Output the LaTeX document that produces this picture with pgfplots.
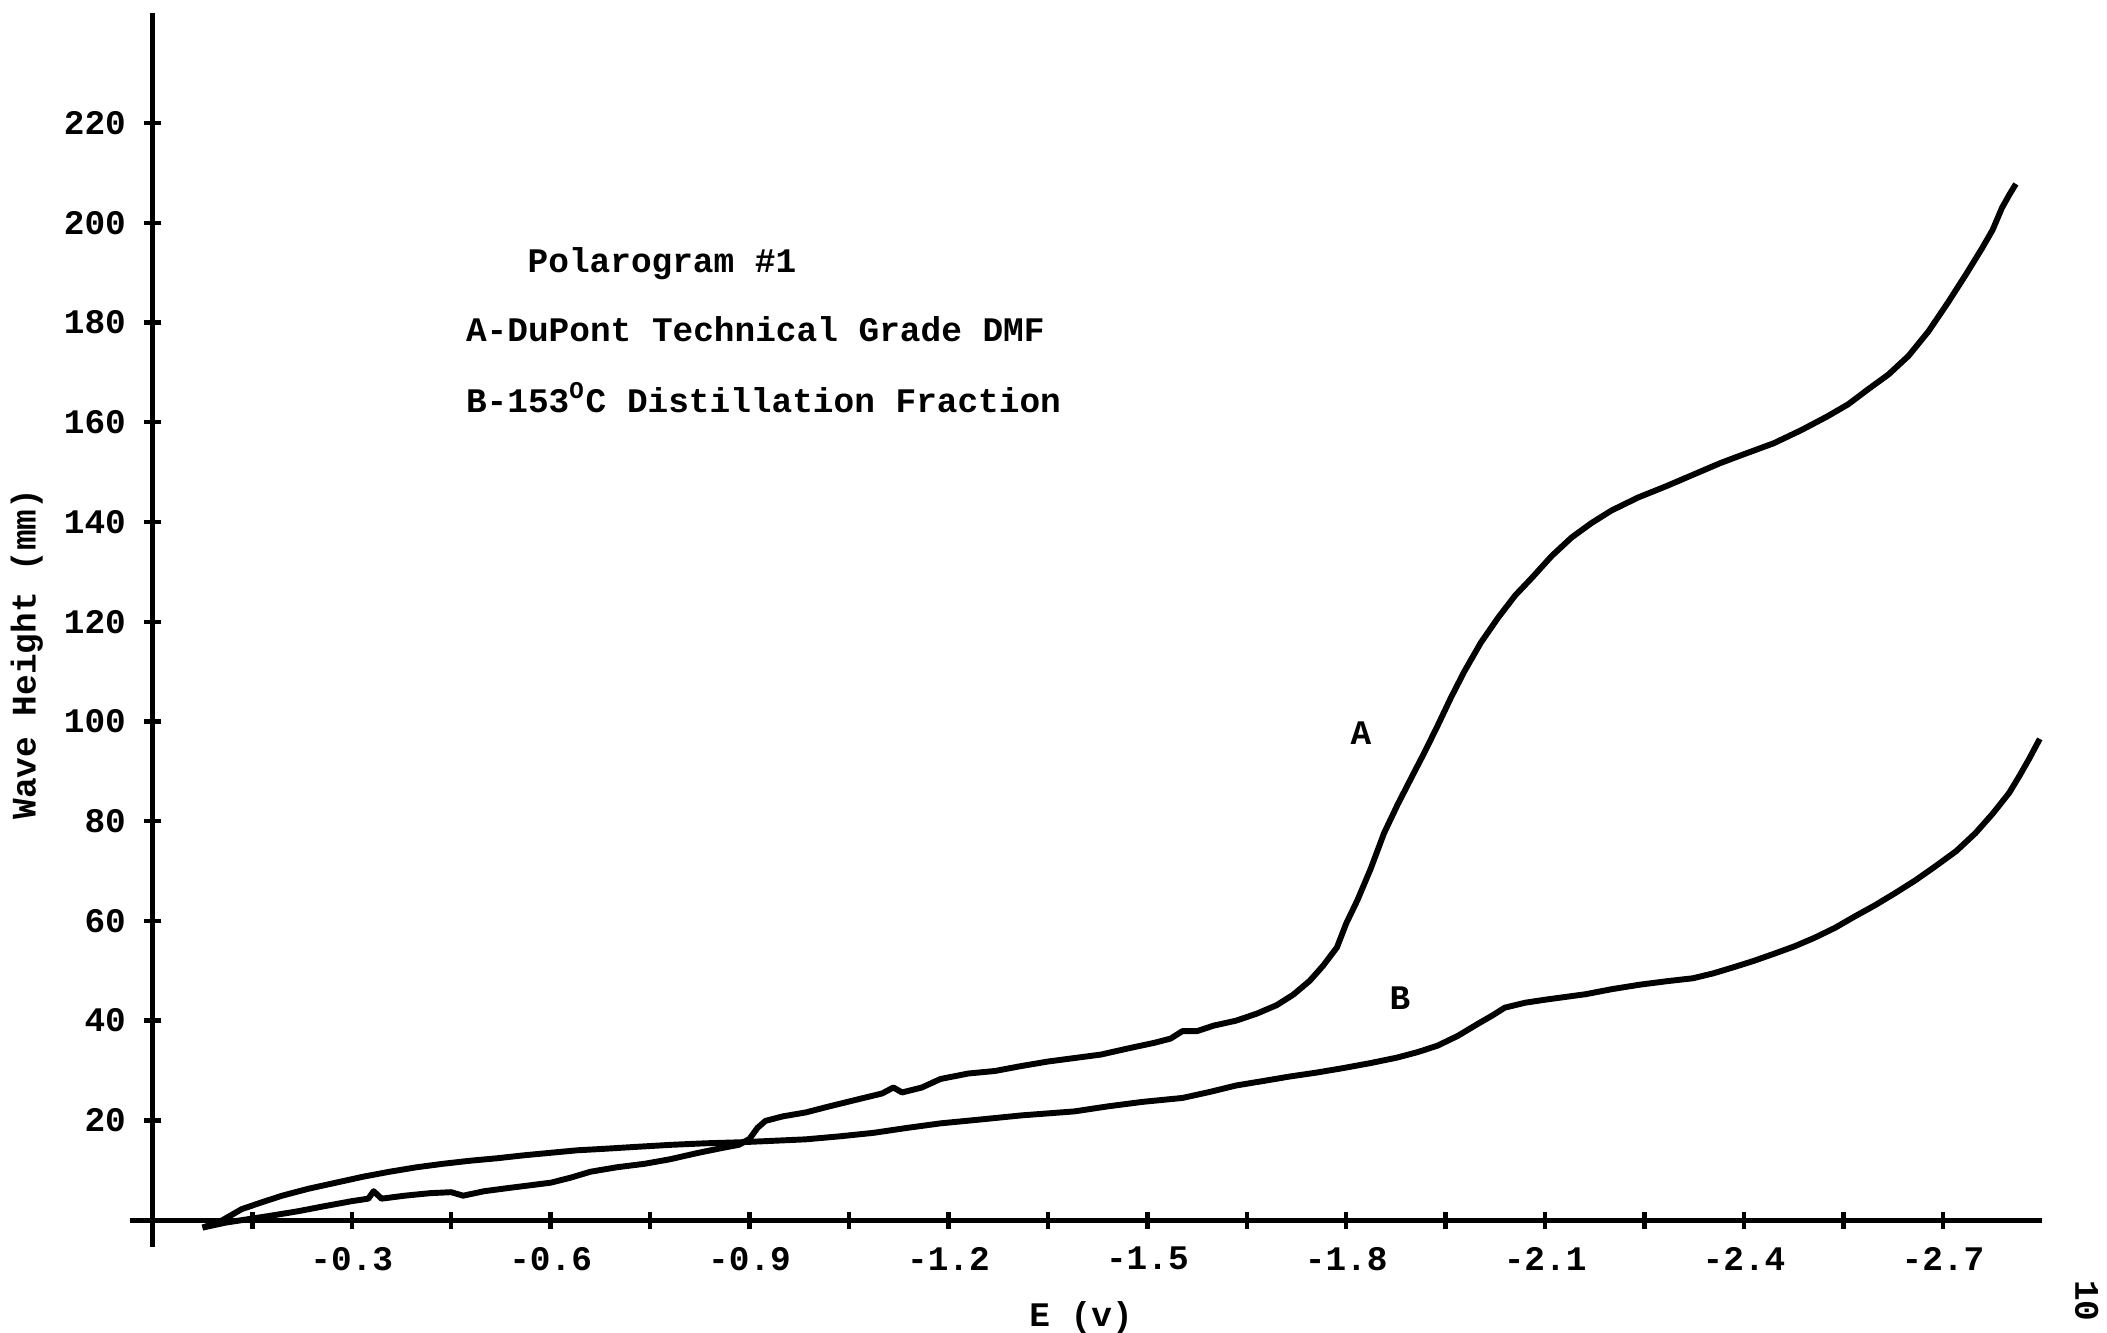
\documentclass[border=0pt]{standalone}
\usepackage{pgfplots}
\pgfplotsset{compat=1.18}
\usepackage{fontspec}
\setmainfont{Liberation Mono}
\begin{document}
\begin{tikzpicture}
\fontsize{9.3}{11}\selectfont\bfseries
\begin{axis}[
  scale only axis,
  width=18.15cm, height=11.71cm,
  axis lines=middle,
  axis line style={-, line width=1.4pt},
  x dir=reverse,
  xmin=-2.85, xmax=0.034,
  ymin=-5.4, ymax=242,
  xtick={-0.3,-0.6,-0.9,-1.2,-1.5,-1.8,-2.1,-2.4,-2.7},
  xticklabels={-0.3,-0.6,-0.9,-1.2,-1.5,-1.8,-2.1,-2.4,-2.7},
  minor xtick={-0.15,-0.45,-0.75,-1.05,-1.35,-1.65,-1.95,-2.25,-2.55},
  ytick={20,40,...,220},
  yticklabels={20,40,60,80,100,120,140,160,180,200,220},
  tick align=center,
  major tick length=0.16cm,
  minor tick length=0.16cm,
  tick style={line width=1.2pt, black},
  every tick label/.append style={font=\fontsize{9.3}{11}\selectfont\bfseries},
  xticklabel style={yshift=-0.06cm},
  yticklabel style={xshift=-0.06cm},
  clip=false,
]
% Curve A: DuPont Technical Grade DMF
\addplot[black, line width=1.6pt, line join=round] coordinates {
(-0.075,-1.5) (-0.11,-0.5) (-0.174,0.8) (-0.22,1.8) (-0.255,2.7) (-0.30,3.8)
(-0.325,4.3) (-0.333,5.8) (-0.345,4.3) (-0.38,4.9) (-0.418,5.4) (-0.45,5.6)
(-0.468,4.9) (-0.50,5.8) (-0.54,6.5) (-0.60,7.5) (-0.63,8.5) (-0.66,9.7)
(-0.70,10.6) (-0.742,11.3) (-0.78,12.2) (-0.823,13.5) (-0.86,14.5)
(-0.884,15.1) (-0.900,16.3) (-0.912,18.5) (-0.924,19.9) (-0.95,20.8)
(-0.985,21.6) (-1.02,22.8) (-1.066,24.3) (-1.10,25.4) (-1.117,26.6)
(-1.13,25.6) (-1.16,26.6) (-1.188,28.3) (-1.23,29.4) (-1.27,29.9)
(-1.31,30.9) (-1.35,31.8) (-1.39,32.5) (-1.43,33.2) (-1.47,34.4)
(-1.512,35.6) (-1.535,36.4) (-1.553,37.9) (-1.575,37.9) (-1.60,39.0)
(-1.634,40.0) (-1.665,41.4) (-1.695,43.1) (-1.72,45.2) (-1.745,48.0)
(-1.765,51.0) (-1.786,54.7) (-1.80,59.5) (-1.817,64.2) (-1.837,70.5)
(-1.857,77.6) (-1.877,83.2) (-1.897,88.4) (-1.918,93.8) (-1.938,99.2)
(-1.958,104.8) (-1.978,110.0) (-2.003,115.8) (-2.029,120.8) (-2.055,125.3)
(-2.08,128.8) (-2.11,133.2) (-2.14,136.9) (-2.17,139.8) (-2.2,142.3)
(-2.24,144.9) (-2.283,147.2) (-2.32,149.3) (-2.364,151.8) (-2.40,153.6)
(-2.445,155.8) (-2.486,158.4) (-2.526,161.2) (-2.557,163.6) (-2.587,166.6)
(-2.618,169.6) (-2.648,173.3) (-2.678,178.2) (-2.708,184.1) (-2.734,189.5)
(-2.759,194.9) (-2.775,198.6) (-2.789,203.0) (-2.80,205.6) (-2.81,207.8)
};
% Curve B: 153 C distillation fraction
\addplot[black, line width=1.6pt, line join=round] coordinates {
(-0.075,-1.5) (-0.10,-0.4) (-0.134,2.2) (-0.165,3.6) (-0.195,4.9)
(-0.235,6.3) (-0.276,7.5) (-0.317,8.7) (-0.357,9.7) (-0.398,10.6)
(-0.438,11.3) (-0.478,11.9) (-0.519,12.4) (-0.56,13.0) (-0.60,13.5)
(-0.64,14.0) (-0.681,14.3) (-0.73,14.7) (-0.782,15.1) (-0.833,15.4)
(-0.884,15.6) (-0.935,15.9) (-0.985,16.2) (-1.036,16.8) (-1.087,17.5)
(-1.138,18.5) (-1.188,19.4) (-1.25,20.2) (-1.31,21.0) (-1.35,21.4)
(-1.39,21.8) (-1.44,22.8) (-1.492,23.7) (-1.553,24.5) (-1.594,25.7)
(-1.634,27.0) (-1.675,27.9) (-1.715,28.8) (-1.756,29.6) (-1.796,30.5)
(-1.837,31.5) (-1.877,32.6) (-1.908,33.7) (-1.938,35.0) (-1.969,37.0)
(-1.999,39.4) (-2.02,41.0) (-2.039,42.6) (-2.07,43.6) (-2.1,44.2)
(-2.161,45.3) (-2.2,46.3) (-2.242,47.2) (-2.283,47.9) (-2.323,48.5)
(-2.354,49.5) (-2.384,50.7) (-2.415,52.0) (-2.445,53.4) (-2.476,54.9)
(-2.506,56.6) (-2.537,58.6) (-2.567,60.9) (-2.597,63.1) (-2.627,65.5)
(-2.658,68.1) (-2.688,70.9) (-2.72,74.0) (-2.749,77.6) (-2.775,81.5)
(-2.80,85.7) (-2.815,89.0) (-2.83,92.5) (-2.846,96.5)
};
\node[anchor=center] at (axis cs:-0.768,191.9) {Polarogram \#1};
\node[anchor=west] at (axis cs:-0.454,178.7) {A-DuPont Technical Grade DMF};
\node[anchor=west] at (axis cs:-0.454,165.0) {B-153\textsuperscript{O}C Distillation Fraction};
\node at (axis cs:-1.822,97.6) {A};
\node at (axis cs:-1.881,44.5) {B};
\node at (axis cs:-1.40,-19.5) {E (v)};
\node[rotate=90] at (axis cs:0.19,113.5) {Wave Height (mm)};
\node[rotate=-90] at (axis cs:-2.917,-16.2) {10};
\end{axis}
\pgfresetboundingbox
\path[use as bounding box] (-1.237,-0.816) rectangle (18.763,11.837);
\end{tikzpicture}
\end{document}
